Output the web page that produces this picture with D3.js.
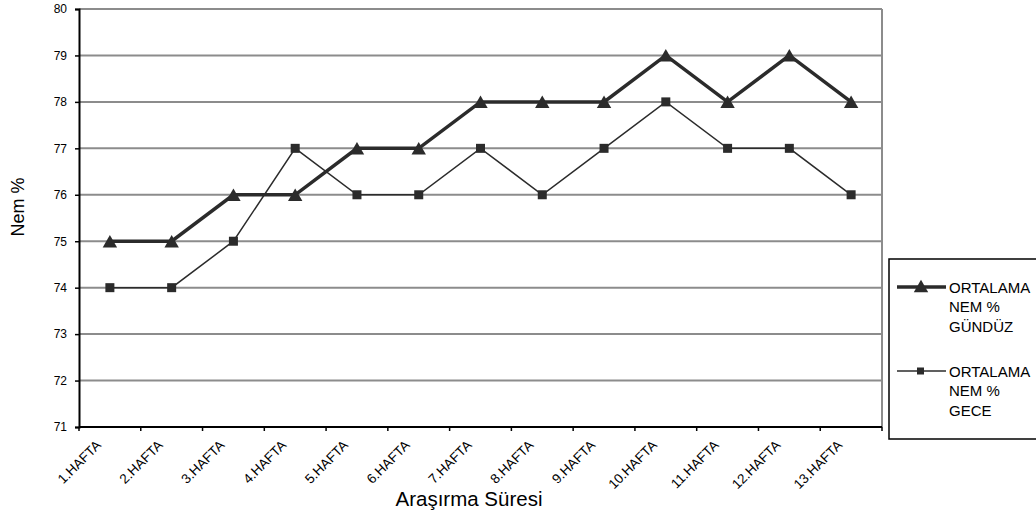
<!DOCTYPE html>
<html><head><meta charset="utf-8">
<script src="https://cdn.jsdelivr.net/npm/d3@7"></script>
<style>body{margin:0;background:#fff}svg{display:block;font-family:"Liberation Sans",Arial,sans-serif}</style>
</head><body><svg id="c" width="1036" height="515"></svg>
<script>
const categories = ["1.HAFTA","2.HAFTA","3.HAFTA","4.HAFTA","5.HAFTA","6.HAFTA","7.HAFTA","8.HAFTA","9.HAFTA","10.HAFTA","11.HAFTA","12.HAFTA","13.HAFTA"];
const dayValues = [75,75,76,76,77,77,78,78,78,79,78,79,78];
const nightValues = [74,74,75,77,76,76,77,76,77,78,77,77,76];
const yTicks = [71,72,73,74,75,76,77,78,79,80];
const seriesNames = [["ORTALAMA","NEM %","GÜNDÜZ"],["ORTALAMA","NEM %","GECE"]];

const svg = d3.select("#c");
const L=79, R=882, T=9, B=427;
const x = d3.scaleBand().domain(categories).range([L,R]);
const y = d3.scaleLinear().domain([71,80]).range([B,T]);
const ink = "#2b2b2b";
const FF = "Liberation Sans, Arial, sans-serif";

// gridlines
svg.append("g").selectAll("line").data(yTicks.filter(d=>d>71)).join("line")
  .attr("x1",L).attr("x2",R).attr("y1",d=>y(d)).attr("y2",d=>y(d))
  .attr("stroke","#8c8c8c").attr("stroke-width",2);
svg.append("line").attr("x1",R).attr("x2",R).attr("y1",T).attr("y2",B).attr("stroke","#8c8c8c").attr("stroke-width",2);

// y axis
const ya = svg.append("g").attr("transform",`translate(${L},0)`)
  .call(d3.axisLeft(y).tickValues(yTicks).tickSize(4).tickPadding(8).tickFormat(d3.format("d")));
ya.select(".domain").attr("stroke","#000").attr("stroke-width",2);
ya.selectAll(".tick line").attr("stroke","#000").attr("stroke-width",1.5);
ya.selectAll("text").attr("font-size",12).attr("fill","#000").attr("font-family",FF);

// x axis
const xa = svg.append("g").attr("transform",`translate(0,${B})`);
xa.append("line").attr("x1",L).attr("x2",R).attr("stroke","#000").attr("stroke-width",2);
xa.selectAll("line.t").data(categories.concat(["_end"])).join("line").attr("class","t")
  .attr("x1",(d,i)=>L+i*x.step()).attr("x2",(d,i)=>L+i*x.step()).attr("y1",0).attr("y2",4)
  .attr("stroke","#000").attr("stroke-width",1.5);
xa.selectAll("text").data(categories).join("text")
  .attr("transform",d=>`translate(${x(d)+x.bandwidth()/2-8},19) rotate(-45)`)
  .attr("text-anchor","end").attr("font-size",13.5).attr("fill","#000").attr("font-family",FF).text(d=>d);

// lines
const line = d3.line().x((d,i)=>x(categories[i])+x.bandwidth()/2).y(d=>y(d));
svg.append("path").datum(nightValues).attr("d",line).attr("fill","none").attr("stroke",ink).attr("stroke-width",1.5);
svg.append("path").datum(dayValues).attr("d",line).attr("fill","none").attr("stroke",ink).attr("stroke-width",3.5);

const tri = d3.symbol().type(d3.symbolTriangle).size(90);
svg.append("g").selectAll("rect").data(nightValues).join("rect")
  .attr("x",(d,i)=>x(categories[i])+x.bandwidth()/2-4.5).attr("y",d=>y(d)-4.5)
  .attr("width",9).attr("height",9).attr("fill",ink);
svg.append("g").selectAll("path").data(dayValues).join("path")
  .attr("d",tri).attr("transform",(d,i)=>`translate(${x(categories[i])+x.bandwidth()/2},${y(d)+2})`).attr("fill",ink);

// axis titles
svg.append("text").attr("transform","translate(24,207) rotate(-90)").attr("text-anchor","middle")
  .attr("font-size",18).attr("fill","#000").text("Nem %");
svg.append("text").attr("x",469).attr("y",506).attr("text-anchor","middle")
  .attr("font-size",20.5).attr("fill","#000").text("Araşırma Süresi");

// legend
svg.append("rect").attr("x",889).attr("y",259).attr("width",160).attr("height",180)
  .attr("fill","#fff").attr("stroke","#000").attr("stroke-width",1.5);
const lg = svg.append("g").selectAll("g").data(seriesNames).join("g")
  .attr("transform",(d,i)=>`translate(0,${287+i*84})`);
lg.append("line").attr("x1",897).attr("x2",946).attr("stroke",ink).attr("stroke-width",(d,i)=>i?1.5:3.5);
lg.filter((d,i)=>i===0).append("path").attr("d",tri).attr("transform","translate(921,1)").attr("fill",ink);
lg.filter((d,i)=>i===1).append("rect").attr("x",917).attr("y",-3.5).attr("width",7).attr("height",7).attr("fill",ink);
lg.selectAll("text").data(d=>d).join("text").attr("x",949).attr("y",(d,i)=>i*19.5+5.5)
  .attr("font-size",15).attr("fill","#000").text(d=>d);
</script></body></html>
